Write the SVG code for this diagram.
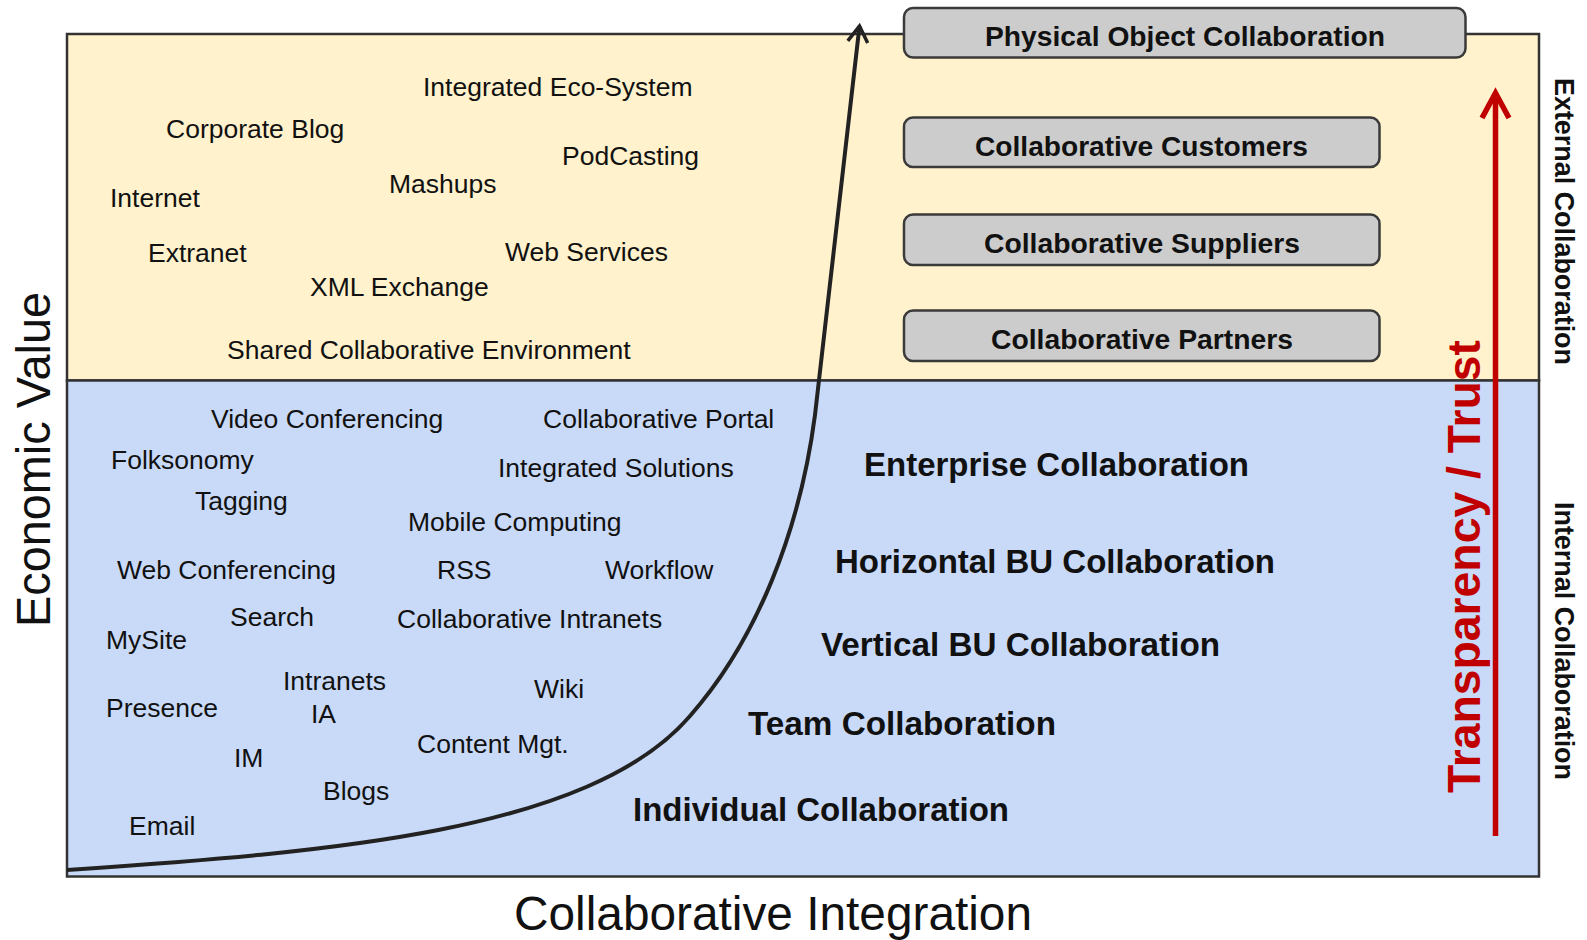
<svg xmlns="http://www.w3.org/2000/svg" width="1587" height="940" viewBox="0 0 1587 940">
<style>
.sm{font-family:"Liberation Sans",Arial,sans-serif;font-size:26.5px;fill:#111}
.big{font-family:"Liberation Sans",Arial,sans-serif;font-size:33px;font-weight:bold;fill:#111}
.box{fill:#cccccc;stroke:#3a3a3a;stroke-width:2.5}
.boxt{font-family:"Liberation Sans",Arial,sans-serif;font-size:28px;font-weight:bold;fill:#111}
.axis{font-family:"Liberation Sans",Arial,sans-serif;font-size:48px;fill:#111}
.side{font-family:"Liberation Sans",Arial,sans-serif;font-size:27px;font-weight:bold;fill:#111}
</style>
<defs>
<marker id="blackHead" markerUnits="userSpaceOnUse" orient="auto" refX="0" refY="0" markerWidth="40" markerHeight="40" viewBox="-20 -20 40 40" overflow="visible">
<path d="M -16 -10 L 0 0 L -16 10" fill="none" stroke="#222" stroke-width="3.5" stroke-linejoin="miter"/>
</marker>
<marker id="redHead" markerUnits="userSpaceOnUse" orient="auto" refX="0" refY="0" markerWidth="60" markerHeight="60" viewBox="-30 -30 60 60" overflow="visible">
<path d="M -25 -13.5 L 0 0 L -25 13.5" fill="none" stroke="#c00000" stroke-width="5.5"/>
</marker>
</defs>
<rect width="1587" height="940" fill="#ffffff"/>
<g id="regions">
<rect x="67" y="34" width="1472" height="346.5" fill="#fff2cc" stroke="#333" stroke-width="2.5"/>
<rect x="67" y="380.5" width="1472" height="496" fill="#c9daf8" stroke="#333" stroke-width="2.5"/>
</g>
<g id="axes">
<text id="economic-value" class="axis" transform="translate(50,627) rotate(-90)" textLength="335" lengthAdjust="spacingAndGlyphs">Economic Value</text>
<text id="collab-integration" class="axis" x="514" y="930" textLength="518" lengthAdjust="spacingAndGlyphs">Collaborative Integration</text>
<text id="external" class="side" transform="translate(1555,78) rotate(90)" textLength="287" lengthAdjust="spacingAndGlyphs">External Collaboration</text>
<text id="internal" class="side" transform="translate(1555,502) rotate(90)" textLength="278" lengthAdjust="spacingAndGlyphs">Internal Collaboration</text>
</g>
<g id="tech-external">
<text class="sm" x="423" y="96">Integrated Eco-System</text>
<text class="sm" x="166" y="138">Corporate Blog</text>
<text class="sm" x="562" y="165">PodCasting</text>
<text class="sm" x="389" y="193">Mashups</text>
<text class="sm" x="110" y="207">Internet</text>
<text class="sm" x="148" y="262">Extranet</text>
<text class="sm" x="505" y="261">Web Services</text>
<text class="sm" x="310" y="296">XML Exchange</text>
<text class="sm" x="227" y="359">Shared Collaborative Environment</text>
</g>
<g id="tech-internal">
<text class="sm" x="211" y="428">Video Conferencing</text>
<text class="sm" x="543" y="428">Collaborative Portal</text>
<text class="sm" x="111" y="469">Folksonomy</text>
<text class="sm" x="498" y="477">Integrated Solutions</text>
<text class="sm" x="195" y="510">Tagging</text>
<text class="sm" x="408" y="531">Mobile Computing</text>
<text class="sm" x="117" y="579">Web Conferencing</text>
<text class="sm" x="437" y="579">RSS</text>
<text class="sm" x="605" y="579">Workflow</text>
<text class="sm" x="230" y="626">Search</text>
<text class="sm" x="397" y="628">Collaborative Intranets</text>
<text class="sm" x="106" y="649">MySite</text>
<text class="sm" x="283" y="690">Intranets</text>
<text class="sm" x="534" y="698">Wiki</text>
<text class="sm" x="106" y="717">Presence</text>
<text class="sm" x="311" y="723">IA</text>
<text class="sm" x="417" y="753">Content Mgt.</text>
<text class="sm" x="234" y="767">IM</text>
<text class="sm" x="323" y="800">Blogs</text>
<text class="sm" x="129" y="835">Email</text>
</g>
<g id="levels-internal">
<text id="enterprise" class="big" x="864" y="476" textLength="385" lengthAdjust="spacingAndGlyphs">Enterprise Collaboration</text>
<text id="horizontal" class="big" x="835" y="573" textLength="440" lengthAdjust="spacingAndGlyphs">Horizontal BU Collaboration</text>
<text id="vertical" class="big" x="821" y="656" textLength="399" lengthAdjust="spacingAndGlyphs">Vertical BU Collaboration</text>
<text id="team" class="big" x="748" y="735" textLength="308" lengthAdjust="spacingAndGlyphs">Team Collaboration</text>
<text id="individual" class="big" x="633" y="821" textLength="376" lengthAdjust="spacingAndGlyphs">Individual Collaboration</text>
</g>
<g id="box-physical">
<rect class="box" x="904" y="8" width="561.5" height="49.5" rx="9"/>
<text class="boxt" x="985" y="46" textLength="400" lengthAdjust="spacingAndGlyphs">Physical Object Collaboration</text>
</g>
<g id="box-customers">
<rect class="box" x="904" y="117.5" width="475.5" height="49.5" rx="9"/>
<text class="boxt" x="975" y="156" textLength="333" lengthAdjust="spacingAndGlyphs">Collaborative Customers</text>
</g>
<g id="box-suppliers">
<rect class="box" x="904" y="214.5" width="475.5" height="50.5" rx="9"/>
<text class="boxt" x="984" y="253" textLength="316" lengthAdjust="spacingAndGlyphs">Collaborative Suppliers</text>
</g>
<g id="box-partners">
<rect class="box" x="904" y="310.5" width="475.5" height="50.5" rx="9"/>
<text class="boxt" x="991" y="349" textLength="302" lengthAdjust="spacingAndGlyphs">Collaborative Partners</text>
</g>
<g id="connectors">
<path id="growth-curve" d="M 67 870 C 330 852, 590 832, 690 716 C 757 640, 800 530, 815 415 Q 838 220, 859.5 26" fill="none" stroke="#222" stroke-width="4" marker-end="url(#blackHead)"/>
<line id="trust-arrow" x1="1495.5" y1="836" x2="1495.5" y2="93" stroke="#c00000" stroke-width="5.5" marker-end="url(#redHead)"/>
</g>
<g id="trust-label">
<text x="0" y="0" transform="translate(1480,793) rotate(-90)" font-family="'Liberation Sans',Arial,sans-serif" font-size="46" font-weight="bold" fill="#c00000" textLength="453" lengthAdjust="spacingAndGlyphs">Transparency / Trust</text>
</g>
</svg>
